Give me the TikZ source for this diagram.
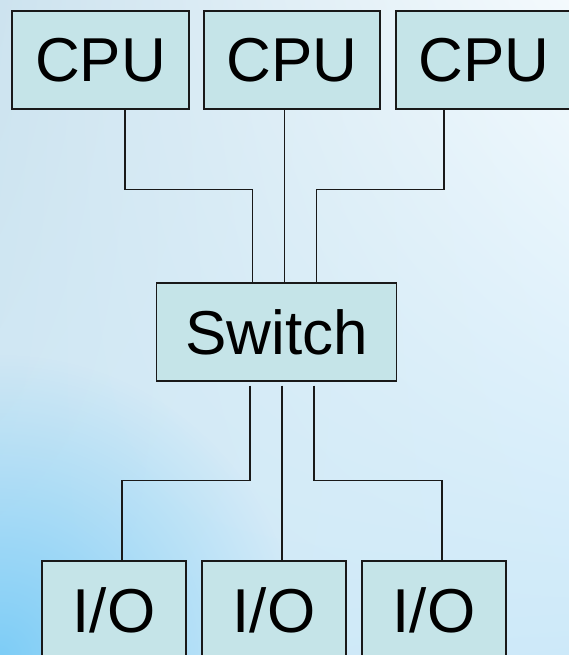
\documentclass[tikz,border=0pt]{standalone}
\usepackage{fontspec}
\setmainfont{Liberation Sans}
\usetikzlibrary{shadings,fadings}
\tikzfading[name=blobfade, inner color=transparent!0, outer color=transparent!100]
\begin{document}
\begin{tikzpicture}[x=1pt,y=-1pt,
  box/.style={draw=black!90,line width=1.4pt,fill=boxfill,minimum height=98pt,inner sep=0pt,
    font=\fontsize{62}{62}\selectfont},
  wire/.style={draw=black!90,line width=1.4pt}]
\definecolor{boxfill}{HTML}{C5E4E8}
\definecolor{bgUL}{HTML}{CDE3EF}
\definecolor{bgUR}{HTML}{F4FAFD}
\definecolor{bgLL}{HTML}{D2EAF6}
\definecolor{bgLR}{HTML}{CDE9F9}
\definecolor{bgBlue}{HTML}{7ECDF7}
\useasboundingbox (0,0) rectangle (569,655);
\clip (0,0) rectangle (569,655);
\shade[upper left=bgUL,upper right=bgUR,lower left=bgLL,lower right=bgLR] (0,0) rectangle (569,655);
\fill[bgBlue,path fading=blobfade] (0,655) circle[radius=300];
\node[box,minimum width=177pt] (c1) at (100.5,60) {CPU};
\node[box,minimum width=176pt] (c2) at (292,60) {CPU};
\node[box,minimum width=176pt] (c3) at (484,60) {CPU};
\node[box,minimum width=240.5pt] (sw) at (276.5,332) {Switch};
\node[box,minimum width=144pt] (i1) at (114,610) {I/O};
\node[box,minimum width=144pt] (i2) at (274,610) {I/O};
\node[box,minimum width=144pt] (i3) at (434,610) {I/O};
% upper connectors
\draw[wire] ([xshift=24.5pt]c1.south) -- ++(0,80) -| ([xshift=-24pt]sw.north);
\draw[wire] ([xshift=8pt]sw.north) -- ([xshift=8pt]sw.north |- c2.south);
\draw[wire] ([xshift=-40pt]c3.south) -- ++(0,80) -| ([xshift=40pt]sw.north);
% lower connectors
\draw[wire] ([shift={(-26.5,4)}]sw.south) -- ++(0,95) -| ([xshift=8pt]i1.north);
\draw[wire] ([shift={(5.5,4)}]sw.south) -- ([xshift=8pt]i2.north);
\draw[wire] ([shift={(37.5,4)}]sw.south) -- ++(0,95) -| ([xshift=8pt]i3.north);
\end{tikzpicture}
\end{document}
